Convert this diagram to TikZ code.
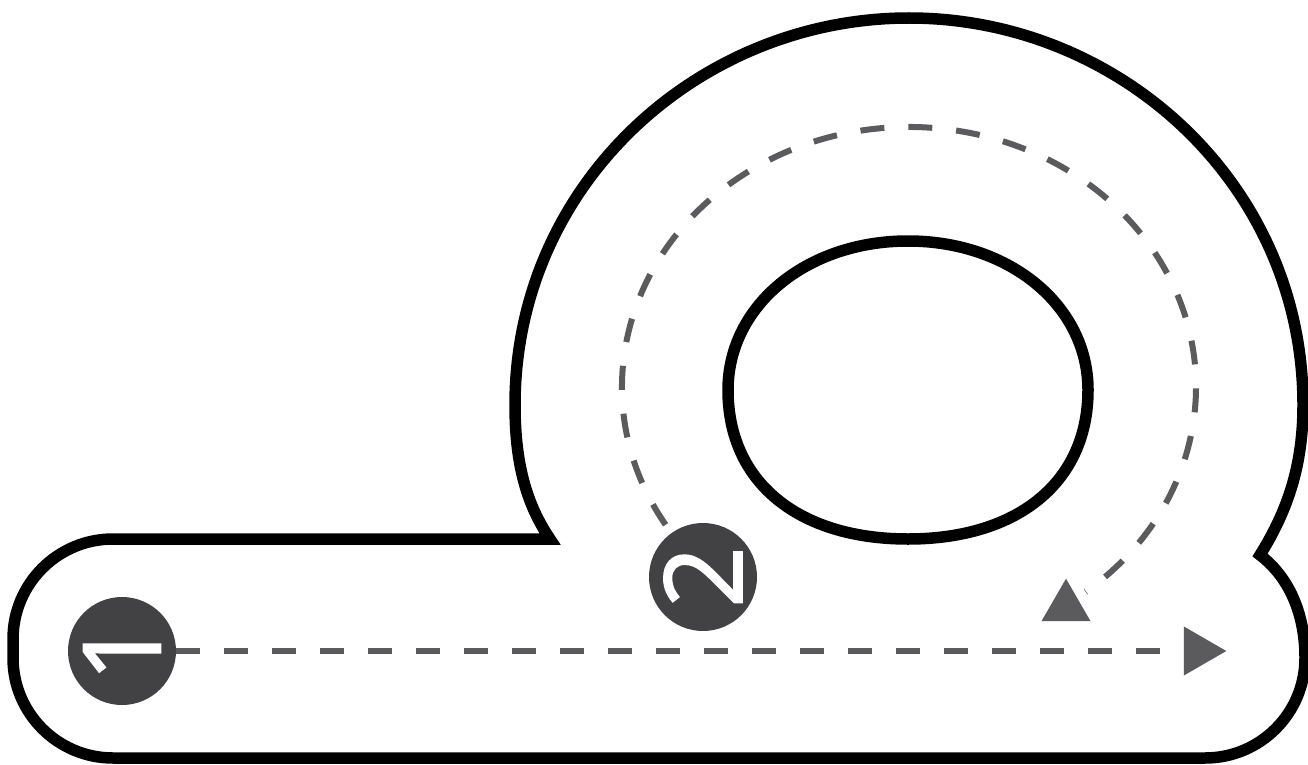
\documentclass[tikz,border=0pt]{standalone}
\usepackage{fontspec}
\newfontfamily\numfont{Open Sans}[FakeBold=1.6]
\usetikzlibrary{shapes.geometric}
\definecolor{badgegray}{HTML}{424244}
\definecolor{routegray}{HTML}{5B5B5D}
\tikzset{
  track/.style    = {line width=11.5pt, black, line join=miter},
  route/.style    = {line width=6pt, routegray, dash pattern=on 24pt off 24pt},
  badge/.style    = {circle, fill=badgegray, text=white, minimum size=108pt,
                     inner sep=0pt, rotate=90,
                     font=\numfont\fontsize{108}{108}\selectfont},
  arrowtri/.style = {regular polygon, regular polygon sides=3, fill=routegray,
                     minimum size=56.6pt, inner sep=0pt},
}

\begin{document}
\begin{tikzpicture}[x=1pt, y=-1pt]
    \useasboundingbox (0,0) rectangle (1308,765);
    % --- track outline ------------------------------------------------
    \draw[track] (550,539) -- (113,539)
        arc[start angle=270, end angle=180, radius=100] -- (13,658)
        arc[start angle=180, end angle=90, radius=100] -- (1205,758)
        arc[start angle=90, end angle=0, radius=100]
        .. controls (1305,615) and (1290,578) .. (1260,555)
        .. controls (1288,510) and (1303,465) .. (1303,405)
        .. controls (1303,185) and (1120,18) .. (909,18)
        .. controls (698,18) and (515,185) .. (515,405)
        .. controls (515,465) and (527,505) .. (550,539) -- cycle;
    % --- inner hole ---------------------------------------------------
    \draw[track] (728,390) .. controls (728,306) and (806,241) .. (908,241)
        .. controls (1010,241) and (1088,306) .. (1088,390)
        .. controls (1088,482) and (1018,539) .. (908,539)
        .. controls (798,539) and (728,482) .. (728,390) -- cycle;
    % --- markers ------------------------------------------------------
    \node[arrowtri, rotate=-90] (endtri)  at (1198,651) {};
    \node[arrowtri]             (turntri) at (1066,607) {};
    % --- routes -------------------------------------------------------
    \coordinate (loopstart) at ([shift={(909,387)}]148:287 and 260);
    \draw[route] (loopstart)
        arc[start angle=148, end angle=412, x radius=287, y radius=260]
        coordinate (loopend);
    \node[badge] (one) at (122,651) {1};
    \node[badge] (two) at (703,577) {2};
    \draw[route] (one) -- (endtri);
  \end{tikzpicture}
\end{document}
